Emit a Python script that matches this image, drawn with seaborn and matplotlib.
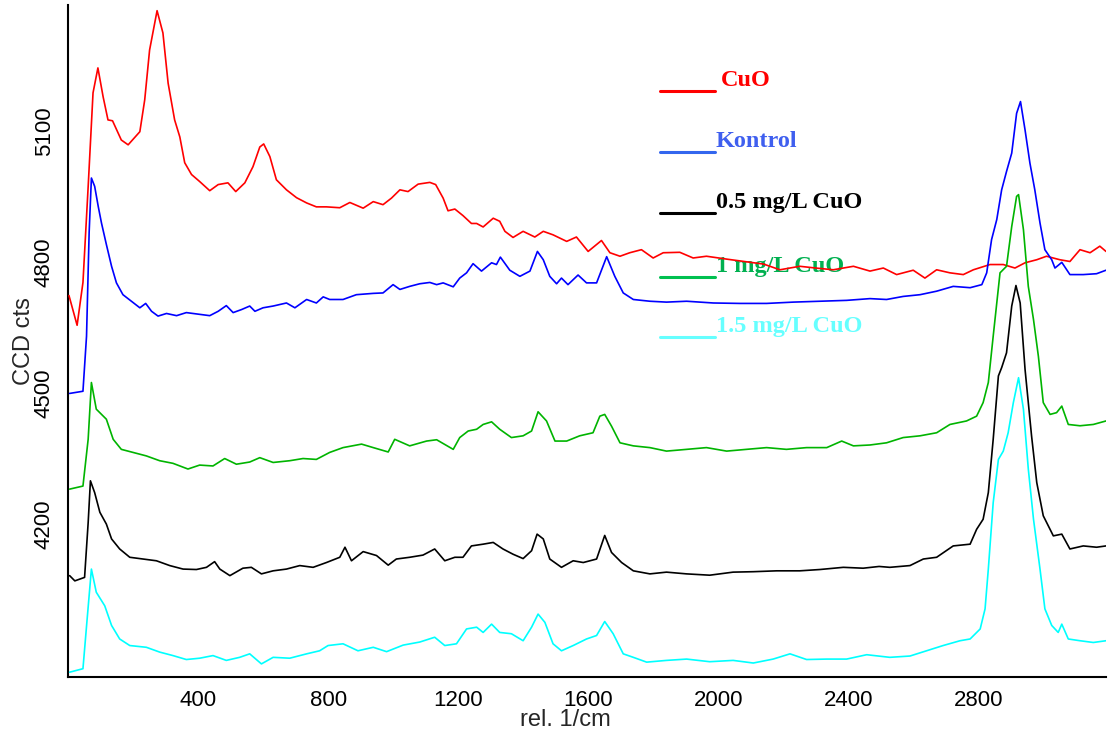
import matplotlib
matplotlib.use("Agg")
import matplotlib.pyplot as plt
import seaborn as sns
from matplotlib.lines import Line2D

# ---------------- data ----------------
cuo_x = [3, 28, 46, 62, 77, 92, 108, 123, 137, 164, 185, 221, 236, 251, 274, 292, 308, 328, 344, 359,
         380, 405, 436, 462, 492, 516, 544, 569, 590, 602, 621, 641, 672, 703, 734, 764, 795, 836, 867, 908,
         939, 969, 995, 1021, 1046, 1077, 1113, 1131, 1154, 1169, 1190, 1215, 1241, 1257, 1277, 1308, 1328,
         1344, 1369, 1400, 1436, 1462, 1492, 1534, 1564, 1600, 1641, 1667, 1698, 1728, 1764, 1800, 1831,
         1882, 1923, 1964, 2030, 2090, 2140, 2190, 2251, 2300, 2354, 2416, 2467, 2508, 2549, 2600, 2636,
         2672, 2713, 2754, 2785, 2836, 2877, 2913, 2944, 2980, 3010, 3051, 3082, 3113, 3144, 3174, 3193]
cuo_y = [4723, 4655, 4753, 4972, 5187, 5244, 5178, 5125, 5123, 5079, 5068, 5098, 5171, 5285, 5375, 5324,
         5209, 5125, 5086, 5027, 5000, 4984, 4963, 4977, 4981, 4961, 4981, 5018, 5063, 5070, 5041, 4988,
         4965, 4947, 4935, 4926, 4926, 4924, 4936, 4923, 4938, 4931, 4946, 4965, 4961, 4978, 4982, 4977,
         4946, 4917, 4921, 4906, 4888, 4888, 4880, 4900, 4893, 4870, 4856, 4870, 4857, 4870, 4862, 4847,
         4857, 4824, 4849, 4821, 4813, 4821, 4828, 4809, 4821, 4822, 4809, 4813, 4806, 4800, 4795, 4782,
         4790, 4786, 4782, 4790, 4779, 4786, 4771, 4781, 4763, 4782, 4775, 4771, 4782, 4794, 4794, 4786,
         4798, 4805, 4813, 4805, 4801, 4828, 4821, 4836, 4824]

kontrol_x = [5, 46, 57, 65, 72, 82, 93, 103, 118, 134, 149, 169, 195, 221, 239, 257, 277, 303, 334, 364,
             405, 436, 462, 487, 508, 534, 559, 575, 600, 631, 672, 698, 734, 764, 785, 805, 846, 887, 939,
             969, 1000, 1021, 1051, 1082, 1113, 1134, 1154, 1185, 1205, 1226, 1246, 1272, 1303, 1318, 1330,
             1359, 1390, 1421, 1444, 1462, 1482, 1503, 1518, 1538, 1569, 1595, 1626, 1657, 1682, 1708, 1739,
             1790, 1841, 1903, 1985, 2067, 2149, 2231, 2313, 2395, 2467, 2518, 2569, 2621, 2672, 2723, 2775,
             2811, 2826, 2841, 2857, 2872, 2887, 2903, 2918, 2930, 2944, 2959, 2974, 2990, 3005, 3026, 3036,
             3057, 3082, 3123, 3164, 3193]
kontrol_y = [4499, 4504, 4630, 4867, 4992, 4973, 4927, 4889, 4840, 4790, 4752, 4725, 4710, 4695, 4705,
             4687, 4676, 4682, 4677, 4684, 4680, 4677, 4687, 4700, 4684, 4691, 4699, 4687, 4695, 4699, 4706,
             4695, 4714, 4706, 4720, 4714, 4714, 4725, 4728, 4729, 4748, 4737, 4744, 4750, 4753, 4748, 4752,
             4743, 4763, 4775, 4796, 4779, 4798, 4794, 4811, 4781, 4767, 4779, 4824, 4805, 4767, 4750, 4763,
             4748, 4770, 4752, 4752, 4812, 4767, 4729, 4714, 4710, 4708, 4710, 4706, 4705, 4705, 4708, 4710,
             4712, 4716, 4714, 4721, 4725, 4733, 4744, 4741, 4748, 4775, 4851, 4897, 4965, 5007, 5049, 5140,
             5167, 5102, 5026, 4965, 4889, 4828, 4805, 4786, 4799, 4771, 4771, 4773, 4781]

mg05_x = [5, 21, 51, 62, 69, 82, 98, 118, 134, 159, 190, 231, 272, 313, 354, 395, 426, 451, 467, 498,
          538, 564, 595, 631, 672, 713, 754, 795, 836, 852, 872, 908, 949, 985, 1010, 1051, 1092, 1128,
          1159, 1190, 1215, 1241, 1277, 1308, 1338, 1369, 1400, 1426, 1443, 1462, 1482, 1518, 1554, 1585,
          1626, 1651, 1672, 1703, 1739, 1790, 1841, 1903, 1974, 2046, 2108, 2180, 2251, 2313, 2385, 2446,
          2495, 2528, 2590, 2631, 2672, 2723, 2775, 2795, 2815, 2831, 2846, 2862, 2872, 2887, 2903, 2916,
          2929, 2944, 2964, 2980, 3000, 3031, 3057, 3082, 3123, 3164, 3193]
mg05_y = [4082, 4070, 4078, 4203, 4299, 4272, 4227, 4200, 4166, 4143, 4124, 4120, 4116, 4105, 4097, 4096,
          4101, 4114, 4097, 4082, 4099, 4101, 4086, 4093, 4097, 4105, 4101, 4112, 4124, 4147, 4116, 4137,
          4128, 4106, 4120, 4124, 4129, 4143, 4116, 4124, 4124, 4150, 4154, 4158, 4143, 4131, 4121, 4139,
          4177, 4166, 4120, 4101, 4116, 4112, 4120, 4174, 4135, 4112, 4093, 4086, 4090, 4086, 4083, 4090,
          4091, 4093, 4093, 4096, 4101, 4099, 4103, 4101, 4105, 4120, 4124, 4150, 4154, 4188, 4211, 4272,
          4394, 4539, 4558, 4592, 4699, 4746, 4706, 4554, 4402, 4295, 4219, 4173, 4177, 4143, 4150, 4147,
          4150]

mg1_x = [5, 46, 62, 72, 87, 118, 139, 164, 200, 241, 282, 323, 369, 405, 446, 482, 518, 559, 590, 631,
         682, 723, 764, 805, 846, 903, 939, 985, 1005, 1051, 1103, 1134, 1185, 1205, 1231, 1257, 1277, 1303,
         1328, 1364, 1400, 1426, 1446, 1472, 1498, 1534, 1574, 1615, 1636, 1651, 1672, 1698, 1739, 1790,
         1841, 1903, 1964, 2026, 2087, 2149, 2210, 2272, 2334, 2380, 2416, 2467, 2518, 2569, 2621, 2672,
         2713, 2764, 2795, 2815, 2831, 2846, 2867, 2887, 2903, 2918, 2924, 2939, 2954, 2970, 2985, 3000,
         3021, 3041, 3057, 3077, 3113, 3154, 3193]
mg1_y = [4280, 4287, 4394, 4524, 4463, 4440, 4394, 4371, 4364, 4356, 4345, 4339, 4326, 4335, 4333, 4350,
         4337, 4342, 4352, 4341, 4345, 4350, 4348, 4364, 4375, 4383, 4375, 4365, 4394, 4379, 4390, 4393,
         4371, 4398, 4413, 4417, 4428, 4434, 4417, 4398, 4402, 4413, 4457, 4436, 4390, 4390, 4402, 4409,
         4447, 4451, 4424, 4386, 4379, 4375, 4367, 4371, 4375, 4367, 4371, 4375, 4371, 4375, 4375, 4390,
         4379, 4381, 4386, 4398, 4402, 4409, 4428, 4436, 4447, 4478, 4524, 4630, 4775, 4790, 4881, 4950,
         4954, 4874, 4744, 4668, 4584, 4478, 4451, 4455, 4470, 4428, 4425, 4428, 4436]

mg15_x = [5, 46, 58, 72, 87, 113, 134, 159, 190, 241, 282, 323, 364, 405, 446, 487, 528, 559, 595, 631,
          682, 734, 774, 800, 846, 892, 939, 980, 1031, 1082, 1128, 1159, 1195, 1226, 1257, 1277, 1303,
          1328, 1364, 1400, 1426, 1446, 1467, 1492, 1518, 1554, 1595, 1626, 1651, 1677, 1708, 1739, 1780,
          1841, 1903, 1974, 2046, 2108, 2169, 2221, 2272, 2334, 2395, 2457, 2528, 2590, 2641, 2692, 2744,
          2775, 2806, 2821, 2831, 2846, 2862, 2877, 2892, 2908, 2924, 2939, 2954, 2970, 2990, 3005, 3026,
          3046, 3057, 3077, 3113, 3154, 3193]
mg15_y = [3861, 3869, 3975, 4097, 4044, 4013, 3968, 3937, 3922, 3918, 3907, 3899, 3890, 3893, 3899, 3888,
          3895, 3903, 3880, 3895, 3893, 3903, 3910, 3922, 3926, 3910, 3918, 3908, 3923, 3930, 3941, 3922,
          3926, 3960, 3964, 3952, 3971, 3952, 3949, 3933, 3964, 3994, 3975, 3926, 3910, 3922, 3937, 3945,
          3977, 3949, 3903, 3895, 3884, 3888, 3891, 3885, 3888, 3882, 3891, 3903, 3890, 3891, 3891, 3901,
          3895, 3898, 3910, 3922, 3933, 3937, 3960, 4006, 4097, 4249, 4348, 4367, 4409, 4478, 4535, 4463,
          4326, 4211, 4097, 4006, 3968, 3952, 3971, 3937, 3933, 3929, 3933]

series_labels = ["CuO", "Kontrol", "0.5 mg/L CuO", "1 mg/L CuO", "1.5 mg/L CuO"]
x_ticks = [400, 800, 1200, 1600, 2000, 2400, 2800]
y_ticks = [4200, 4500, 4800, 5100]

# ---------------- style ----------------
sns.set_style("white")
plt.rcParams['font.family'] = ['Liberation Sans', 'DejaVu Sans']

W, H = 1117, 742
fig = plt.figure(figsize=(W / 100, H / 100), dpi=100)
ax = fig.add_axes([68 / W, 1 - 677 / H, (1106 - 68) / W, (677 - 5) / H])

curve_colors = ['#ff0000', '#0000ff', '#000000', '#00b400', '#00ffff']
curves = [(cuo_x, cuo_y), (kontrol_x, kontrol_y), (mg05_x, mg05_y), (mg1_x, mg1_y), (mg15_x, mg15_y)]
for (xs, ys), col in zip(curves, curve_colors):
    sns.lineplot(x=xs, y=ys, color=col, linewidth=1.2, ax=ax, estimator=None, sort=False, zorder=3)

ax.set_xlim(0, 3193)
ax.set_ylim(3850, 5388)
ax.set_xticks(x_ticks)
ax.set_yticks(y_ticks)

for s in ['top', 'right']:
    ax.spines[s].set_visible(False)
for s in ['left', 'bottom']:
    ax.spines[s].set_color('black')
    ax.spines[s].set_linewidth(1.5)

ax.tick_params(axis='x', direction='inout', length=11, width=1.5, labelsize=16, pad=4, colors='black')
ax.tick_params(axis='y', direction='inout', length=13, width=1.5, labelsize=16, pad=3, colors='black',
               labelrotation=90)
for lbl in ax.get_yticklabels():
    lbl.set_va('center')

ax.set_xlabel("rel. 1/cm", fontsize=17)
ax.set_ylabel("CCD cts", fontsize=17)
ax.xaxis.set_label_coords((565 - 68) / (1106 - 68), (677 - 720) / 672)
ax.xaxis.label.set_va('center')
ax.yaxis.set_label_coords((24 - 68) / (1106 - 68), (677 - 341) / 672)
ax.yaxis.label.set_va('center')

# ---------------- legend (text behind curves as in the reference) ----------------
leg_line_y = [90.7, 151.7, 213, 276.7, 336.7]
leg_text_x = [721, 716, 716, 716, 716]
leg_text_colors = ['#ff0000', '#3f5fef', '#000000', '#00b050', '#66ffff']
leg_line_colors = ['#ff0000', '#3366ee', '#000000', '#00c050', '#66ffff']
for lab, ly, tx, tc, lc in zip(series_labels, leg_line_y, leg_text_x, leg_text_colors, leg_line_colors):
    ax.add_line(Line2D([660 / W, 715 / W], [1 - ly / H, 1 - ly / H], transform=fig.transFigure,
                       color=lc, linewidth=2.2, zorder=1, clip_on=False))
    ax.text(tx / W, 1 - (ly - 5) / H, lab, transform=fig.transFigure, color=tc,
            fontfamily='Liberation Serif', fontweight='bold', fontsize=17.5,
            ha='left', va='baseline', zorder=1, clip_on=False)

fig.savefig("out.png", dpi=100, facecolor='white')
